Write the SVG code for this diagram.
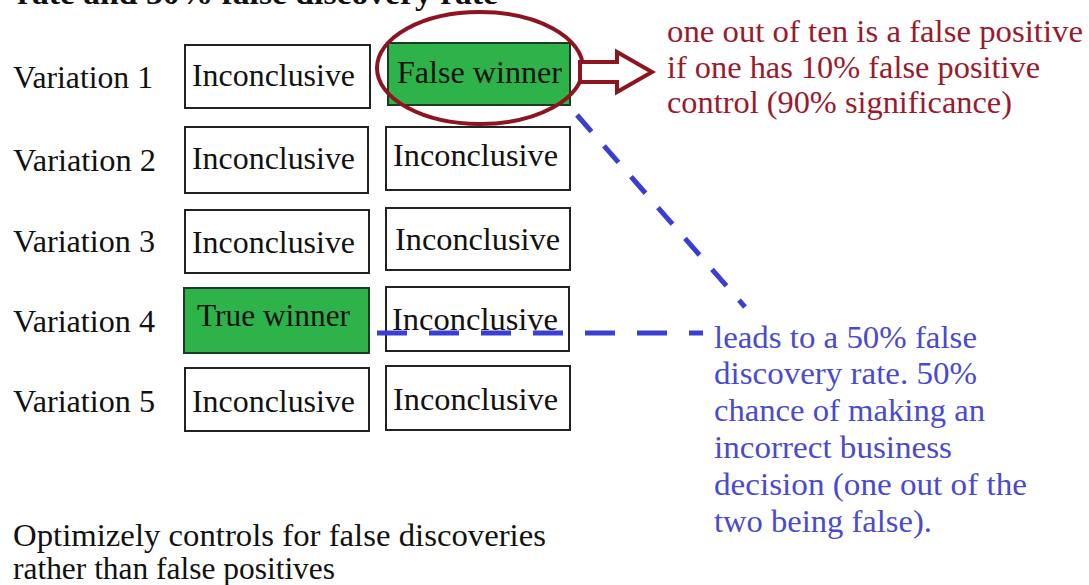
<svg xmlns="http://www.w3.org/2000/svg" width="1089" height="585" viewBox="0 0 1089 585" font-family="'Liberation Serif', 'Times New Roman', Times, serif" font-size="32">
<style>
.lbl{fill:#111;}
.box{fill:#fff;stroke:#222;stroke-width:2;}
.win{fill:#2db34a;stroke:#1f3a22;stroke-width:2;}
.red{fill:#9a1a2c;}
.blue{fill:#4a4ad0;}
.dash{fill:none;stroke:#3a3fd2;stroke-width:5;}
</style>
<rect width="1089" height="585" fill="#fff"/>
<text x="17" y="4" font-weight="bold" fill="#111" textLength="481" lengthAdjust="spacingAndGlyphs">rate and 50% false discovery rate</text>
<g id="labels">
<text class="lbl" x="13" y="88" textLength="140" lengthAdjust="spacingAndGlyphs">Variation 1</text>
<text class="lbl" x="13" y="171" textLength="143" lengthAdjust="spacingAndGlyphs">Variation 2</text>
<text class="lbl" x="13" y="252" textLength="142" lengthAdjust="spacingAndGlyphs">Variation 3</text>
<text class="lbl" x="13" y="332" textLength="142" lengthAdjust="spacingAndGlyphs">Variation 4</text>
<text class="lbl" x="13" y="412" textLength="142" lengthAdjust="spacingAndGlyphs">Variation 5</text>
</g>
<g id="r1c1"><rect class="box" x="185" y="45" width="185" height="63"/><text class="lbl" x="192" y="86" textLength="163" lengthAdjust="spacingAndGlyphs">Inconclusive</text></g>
<g id="r2c1"><rect class="box" x="185" y="127" width="183" height="66"/><text class="lbl" x="192" y="169" textLength="163" lengthAdjust="spacingAndGlyphs">Inconclusive</text></g>
<g id="r3c1"><rect class="box" x="185" y="210" width="184" height="63"/><text class="lbl" x="192" y="253" textLength="163" lengthAdjust="spacingAndGlyphs">Inconclusive</text></g>
<g id="r4c1"><rect class="win" x="184" y="288" width="185" height="65"/><text class="lbl" x="197" y="326" textLength="153" lengthAdjust="spacingAndGlyphs">True winner</text></g>
<g id="r5c1"><rect class="box" x="185" y="368" width="184" height="63"/><text class="lbl" x="192" y="412" textLength="163" lengthAdjust="spacingAndGlyphs">Inconclusive</text></g>
<g id="r1c2"><rect class="win" x="388" y="43" width="182" height="62"/><text class="lbl" x="397" y="83" textLength="165" lengthAdjust="spacingAndGlyphs">False winner</text></g>
<g id="r2c2"><rect class="box" x="386" y="127" width="184" height="63"/><text class="lbl" x="393" y="166" textLength="165" lengthAdjust="spacingAndGlyphs">Inconclusive</text></g>
<g id="r3c2"><rect class="box" x="386" y="208" width="184" height="62"/><text class="lbl" x="395" y="250" textLength="165" lengthAdjust="spacingAndGlyphs">Inconclusive</text></g>
<g id="r4c2"><rect class="box" x="386" y="287" width="183" height="64"/></g>
<g id="r5c2"><rect class="box" x="386" y="366" width="184" height="64"/><text class="lbl" x="393" y="410" textLength="165" lengthAdjust="spacingAndGlyphs">Inconclusive</text></g>
<g id="connectors">
<line class="dash" x1="577" y1="115" x2="745" y2="307" stroke-dasharray="22 19"/>
<line class="dash" x1="377" y1="333" x2="703" y2="333" stroke-dasharray="30 22"/>
<ellipse cx="480" cy="68" rx="103" ry="56" fill="none" stroke="#8e1421" stroke-width="4"/>
<polygon points="580,62 617,62 617,52 652,72 617,92 617,82 580,82" fill="#fff" stroke="#8e1421" stroke-width="4"/>
</g>
<text class="lbl" x="392" y="330" textLength="166" lengthAdjust="spacingAndGlyphs">Inconclusive</text>
<g id="note-red">
<text class="red" x="667" y="42" textLength="416" lengthAdjust="spacingAndGlyphs">one out of ten is a false positive</text>
<text class="red" x="667" y="78" textLength="373" lengthAdjust="spacingAndGlyphs">if one has 10% false positive</text>
<text class="red" x="667" y="113" textLength="345" lengthAdjust="spacingAndGlyphs">control (90% significance)</text>
</g>
<g id="note-blue">
<text class="blue" x="714" y="348" textLength="263" lengthAdjust="spacingAndGlyphs">leads to a 50% false</text>
<text class="blue" x="714" y="384" textLength="263" lengthAdjust="spacingAndGlyphs">discovery rate. 50%</text>
<text class="blue" x="714" y="421" textLength="271" lengthAdjust="spacingAndGlyphs">chance of making an</text>
<text class="blue" x="714" y="458" textLength="238" lengthAdjust="spacingAndGlyphs">incorrect business</text>
<text class="blue" x="714" y="495" textLength="313" lengthAdjust="spacingAndGlyphs">decision (one out of the</text>
<text class="blue" x="714" y="532" textLength="218" lengthAdjust="spacingAndGlyphs">two being false).</text>
</g>
<g id="footer">
<text class="lbl" x="13" y="546" textLength="533" lengthAdjust="spacingAndGlyphs">Optimizely controls for false discoveries</text>
<text class="lbl" x="13" y="579" textLength="322" lengthAdjust="spacingAndGlyphs">rather than false positives</text>
</g>
</svg>
